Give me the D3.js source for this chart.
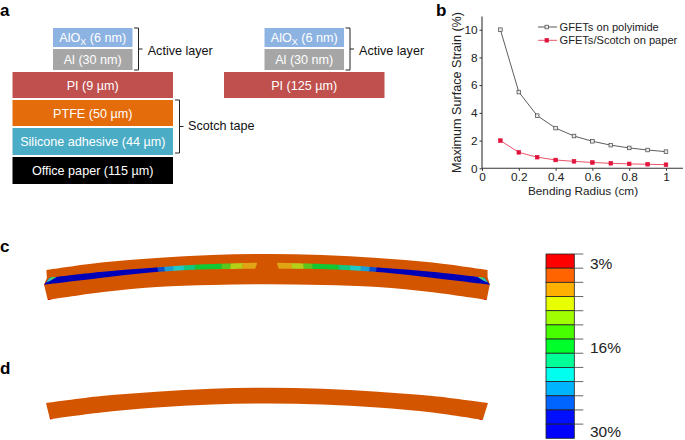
<!DOCTYPE html>
<html><head><meta charset="utf-8">
<script src="https://cdn.jsdelivr.net/npm/d3@7/dist/d3.min.js"></script>
<style>html,body{margin:0;padding:0;background:#fff}svg{display:block}text{font-family:"Liberation Sans",Arial,sans-serif}</style>
</head><body><svg id="c" width="685" height="440"></svg>
<script>
// ---- panel a
const leftLayers = ["AlOx (6 nm)","Al (30 nm)","PI (9 µm)","PTFE (50 µm)","Silicone adhesive (44 µm)","Office paper (115 µm)"];
const leftHeights = [19,21,26,26,27,27];
const rightLayers = ["AlOx (6 nm)","Al (30 nm)","PI (125 µm)"];
const rightHeights = [19,21,26];
// ---- panel b
const radius = [0.1,0.2,0.3,0.4,0.5,0.6,0.7,0.8,0.9,1];
const polyimideStrain = [10,5.5,3.8,2.9,2.33,1.95,1.67,1.47,1.32,1.2];
const scotchStrain = [2,1.15,0.8,0.6,0.5,0.42,0.36,0.32,0.29,0.26];
const xTickValues = [0,0.2,0.4,0.6,0.8,1];
const xTickLabels = ["0","0.2","0.4","0.6","0.8","1"];
const yTickValues = [0,2,4,6,8,10];
const seriesNames = ["GFETs on polyimide","GFETs/Scotch on paper"];
// ---- panels c, d: beam profile (station along beam %, deflection)
const stations = [12.5,25,37.5,50,62.5,75,87.5];
const cTop = [12.5,8,5,4,5,8,12.5];
const cBottom = [42.3,37,35,34.3,35,37,42.3];
const dTop = [16,11.7,8.7,7.7,8.7,11.7,16];
const dBottom = [32.5,27.5,24.5,23.5,24.5,27.5,32.5];
const cavityStations = [0.8,12.2,23.5,34.8,47.9];
const cavityUpper = [27.7,22,18,14.5,12.7];
const cavityLowerStations = [-0.45,12.2,23.5,34.8,47.3];
const cavityLower = [34.7,28,22.5,19.5,18.7];
const bandTop = [24.2,26.2,28.5,31.4,34.2,40,42.2,44.9,47.9];
const bandBottom = [26.5,27.6,29.2,31,33.3,39.4,41.2,43.9,47.3];
const bandColors = ["#0000b8","#0a4fd0","#1aa0d8","#20c8c8","#10c880","#12c832","#58c81e","#b4d018","#e0a414"];
// ---- colour bar
const barColors = ["#ff0000","#ff6400","#ffb000","#e8ff00","#a0ff00","#48ff00","#00ff2a","#00ff96","#00ffee","#00b4ff","#0064ff","#0010ff","#0000ff"];
const barLabels = ["3%","16%","30%"];
const barLabelBaselines = [268.5,353,437];

const svg = d3.select("#c");
const ff = "'Liberation Sans',Arial,sans-serif";

// panel letters
[["a",0,15.5],["b",436,15.5],["c",0,252],["d",0,374]].forEach(([t,x,y])=>
  svg.append("text").attr("x",x).attr("y",y).attr("font-size",17).attr("font-weight","bold").attr("fill","#000").text(t));

const layerColor = n => n.startsWith("AlOx")?"#8db3e2":n.startsWith("Al ")?"#a6a6a6":n.startsWith("PI")?"#c0504d":
  n.startsWith("PTFE")?"#e46c0a":n.startsWith("Silicone")?"#4bacc6":"#000";
function stack(layers,heights,x0,x1,xn0,xn1){
  const g = 2; let y = 28;
  layers.forEach((n,i)=>{
    const top = i<2, a = top?xn0:x0, b = top?xn1:x1;
    svg.append("rect").attr("x",a).attr("y",y).attr("width",b-a).attr("height",heights[i]).attr("fill",layerColor(n));
    const t = svg.append("text").attr("x",(a+b)/2).attr("y",y+heights[i]/2+4.5).attr("text-anchor","middle")
      .attr("font-size",12.6).attr("fill","#fff");
    if(n.startsWith("AlOx")){
      t.append("tspan").text("AlO");
      t.append("tspan").attr("font-size",9).attr("dy",3).text("X");
      t.append("tspan").attr("dy",-3).text(n.slice(4));
    } else t.text(n);
    y += heights[i]+g;
  });
}
stack(leftLayers,leftHeights,12.5,173,53,132.5);
stack(rightLayers,rightHeights,224,384.5,264.5,344);

function bracket(x,y0,y1,w,tick,label,lx,ly){
  svg.append("path").attr("fill","none").attr("stroke","#222").attr("stroke-width",1)
    .attr("d",`M${x},${y0}H${x+w}V${y1}H${x}M${x+w},${(y0+y1)/2}h${tick}`);
  svg.append("text").attr("x",lx).attr("y",ly).attr("font-size",12.6).attr("fill","#111").text(label);
}
bracket(134,28,70,4.5,4,"Active layer",147.7,54.5);
bracket(345.5,28,70,4.5,4,"Active layer",359,54.5);
bracket(175,100,153,4.5,4,"Scotch tape",188,130);

// panel b
const x = d3.scaleLinear().domain([0,1]).range([482,666]);
const y = d3.scaleLinear().domain([0,10]).range([168.3,29.7]);
const gx = svg.append("g").attr("transform","translate(0,168.3)")
  .call(d3.axisBottom(x).tickValues(xTickValues).tickFormat((d,i)=>xTickLabels[i]).tickSize(2.5).tickPadding(1.5));
const gy = svg.append("g").attr("transform","translate(482,0)")
  .call(d3.axisLeft(y).tickValues(yTickValues).tickFormat(d3.format("d")).tickSize(2.5).tickPadding(2));
gx.select(".domain").attr("d","M482,0H683");
gy.select(".domain").attr("d","M0,168.3V16.5");
[gx,gy].forEach(g=>{
  g.selectAll(".domain").attr("stroke","#333").attr("stroke-width",1.1);
  g.selectAll(".tick line").attr("stroke","#333");
  g.selectAll("text").attr("font-size",11.8).attr("font-family",ff).attr("fill","#222");
});
svg.append("text").attr("x",583).attr("y",194.5).attr("text-anchor","middle").attr("font-size",11.8).attr("fill","#222").text("Bending Radius (cm)");
svg.append("text").attr("transform","translate(461,92.5) rotate(-90)").attr("text-anchor","middle").attr("font-size",12.6).attr("fill","#222").text("Maximum Surface Strain (%)");
const ln = d3.line().x((d,i)=>x(radius[i])).y(d=>y(d));
function series(vals,col,lw,fill,stroke){
  svg.append("path").attr("d",ln(vals)).attr("fill","none").attr("stroke",col).attr("stroke-width",lw);
  svg.selectAll(null).data(vals).enter().append("rect")
    .attr("x",(d,i)=>x(radius[i])-1.8).attr("y",d=>y(d)-1.8).attr("width",3.6).attr("height",3.6)
    .attr("fill",fill).attr("stroke",stroke).attr("stroke-width",0.7);
}
series(polyimideStrain,"#333",0.8,"#e8e8e8","#444");
series(scotchStrain,"#e8415a",0.9,"#e0143c","#e0143c");
seriesNames.forEach((n,i)=>{
  const ly = 27+i*13.3, col = i?"#e8415a":"#444";
  svg.append("line").attr("x1",538).attr("x2",557).attr("y1",ly).attr("y2",ly).attr("stroke",col).attr("stroke-width",0.9);
  svg.append("rect").attr("x",545).attr("y",ly-1.8).attr("width",3.6).attr("height",3.6)
    .attr("fill",i?"#e0143c":"#e8e8e8").attr("stroke",i?"#e0143c":"#444").attr("stroke-width",0.7);
  svg.append("text").attr("x",559.5).attr("y",ly+4).attr("font-size",11.1).attr("fill","#222").text(n);
});

// panels c, d
const orange = "#d45500";
const sx = d3.scaleLinear().domain([0,100]).range([46,488]);
const syC = d3.scaleLinear().domain([0,50]).range([250,300]);
const syD = d3.scaleLinear().domain([0,50]).range([380,430]);
function outline(sy,top,bot,tl,tr,br,bl,extraL,extraR){
  const cur = d3.line().x(d=>sx(d[0])).y(d=>sy(d[1])).curve(d3.curveCatmullRom.alpha(0.5));
  const tp = [tl,...stations.map((s,i)=>[s,top[i]]),tr];
  const bp = [br,...stations.slice().reverse().map((s,i)=>[s,bot[bot.length-1-i]]),bl];
  const pt = p=>`L${sx(p[0])},${sy(p[1])}`;
  return cur(tp)+(extraR||[]).map(pt).join("")+cur(bp).replace("M","L")+(extraL||[]).map(pt).join("")+"Z";
}
svg.append("path").attr("fill",orange).attr("d",
  outline(syC,cTop,cBottom,[0.1,20],[99.9,20],[99.7,50],[0.4,50],[[-0.45,34.5],[0.2,28]],[[99.9,27],[100.4,34.5]]));
svg.append("path").attr("fill",orange).attr("d",
  outline(syD,dTop,dBottom,[0,23],[100,23],[98.8,40],[0.9,39.2]));

svg.append("defs").html(`<clipPath id="cavL"></clipPath><clipPath id="cavR"></clipPath>`);
const edge = d3.line().curve(d3.curveCatmullRom.alpha(0.5));
const up = cavityStations.map((s,i)=>[sx(s),syC(cavityUpper[i])]);
const lo = cavityLowerStations.map((s,i)=>[sx(s),syC(cavityLower[i])]);
const mirror = p=>[sx(100-sx.invert(p[0])),p[1]];
const shape = (u,l)=>edge(u)+edge(l.slice().reverse()).replace("M","L")+"Z";
svg.select("#cavL").append("path").attr("d",shape(up,lo));
svg.select("#cavR").append("path").attr("d",shape(up.map(mirror),lo.map(mirror)));
function bands(clip,flip){
  const g = svg.append("g").attr("clip-path",`url(#${clip})`);
  const f = s=>sx(flip?100-s:s);
  bandColors.forEach((c,i)=>{
    const t0 = i?bandTop[i-1]:-3, b0 = i?bandBottom[i-1]:-3;
    g.append("polygon").attr("fill",c).attr("stroke",c).attr("stroke-width",0.3)
      .attr("points",[[f(t0),syC(0)],[f(bandTop[i]),syC(0)],[f(bandBottom[i]),syC(40)],[f(b0),syC(40)]].map(p=>p.join(",")).join(" "));
  });
  // tip of the cavity
  g.append("polygon").attr("fill","#30c0b0").attr("points",[[f(0.8),syC(27)],[f(2.4),syC(27)],[f(0.9),syC(31)],[f(0),syC(32.5)]].map(p=>p.join(",")).join(" "));
  g.append("polygon").attr("fill","#60d040").attr("points",[[f(1),syC(27)],[f(2.2),syC(27)],[f(1.2),syC(29.5)]].map(p=>p.join(",")).join(" "));
}
bands("cavL",false);
bands("cavR",true);
// red corner spots
[[syC,0.5,1.2,50,48.6],[syC,99.2,99.7,50,48.6],[syD,0.9,1.6,39.3,38],[syD,98.1,98.8,40,38.8]].forEach(([sy,a,b,d0,d1])=>
  svg.append("polygon").attr("fill","#e01010").attr("points",
    [[sx(a),sy(d0)],[sx(b),sy(d0)],[sx(a),sy(d1)]].map(p=>p.join(",")).join(" ")));

// colour bar
const cb = d3.scaleBand().domain(d3.range(barColors.length)).range([254,438.3]);
const cbg = svg.append("g");
barColors.forEach((c,i)=>{
  cbg.append("rect").attr("x",546).attr("y",cb(i)).attr("width",28.3).attr("height",cb.bandwidth())
    .attr("fill",c).attr("stroke","#222").attr("stroke-width",0.8);
  cbg.append("line").attr("x1",574.3).attr("x2",583.3).attr("y1",cb(i)).attr("y2",cb(i)).attr("stroke","#555").attr("stroke-width",0.9);
});
barLabels.forEach((t,i)=>{
  svg.append("text").attr("x",590).attr("y",barLabelBaselines[i]).attr("font-size",15.5).attr("fill","#222").text(t);
});
</script></body></html>
